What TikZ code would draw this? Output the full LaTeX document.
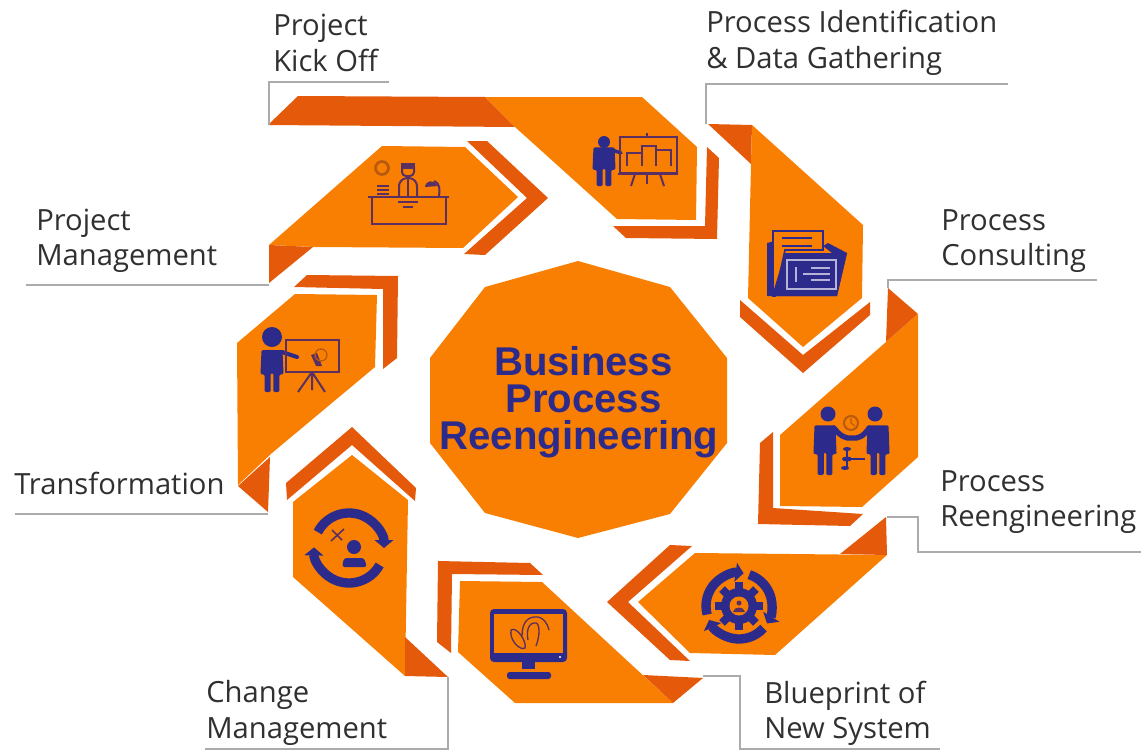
\documentclass[tikz,border=0pt]{standalone}
\usepackage{fontspec}
\setmainfont{Open Sans}
\newfontfamily\titlefont{Liberation Sans}
\usepackage{xcolor}
\usepackage{tikz}
\usetikzlibrary{arrows.meta}
\definecolor{mainorange}{HTML}{F97F03}
\definecolor{darkorange}{HTML}{E4590A}
\definecolor{iconblue}{HTML}{2C2A8A}
\definecolor{iconbrown}{HTML}{5A2F62}
\definecolor{clockbrown}{HTML}{B8590F}
\definecolor{leadgray}{HTML}{ABABAB}
\definecolor{labelgray}{HTML}{303030}
\tikzset{mainpart/.style={fill=mainorange},
    darkpart/.style={fill=darkorange},
    leadline/.style={draw=leadgray,line width=0.8pt},
    steplabel/.style={inner sep=0pt,anchor=west,align=left,text=labelgray,
        font=\fontsize{21.9}{26.5}\selectfont},
    iconline/.style={draw=iconbrown,line width=1.5pt},
    ringline/.style={draw=iconblue,line width=7pt,-{Triangle[length=6pt,width=14pt]}},
    man/.pic={
        \fill[iconblue,rounded corners=1pt] (-10,-31) -- (10,-31) -- (11,-13) -- (7,-13)
            -- (7,0) -- (1.2,0) -- (1.2,-14) -- (-1.2,-14) -- (-1.2,0) -- (-7,0) -- (-7,-13)
            -- (-11,-13) -- cycle;
    }}

\begin{document}
\begin{tikzpicture}[x=0.75pt,y=-0.75pt]
    \useasboundingbox (0,0) rectangle (1141,749);
    % top
    \fill[darkpart] (268,125) -- (298,96) -- (485,97) -- (515,127) -- cycle;
    \fill[mainpart] (485,97) -- (642,97) -- (697,147) -- (696,220) -- (617,219) -- (515,127) -- cycle;
    \fill[darkpart] (707,147) -- (719,158) -- (717,239) -- (626,238) -- (613,226) -- (705,226) -- cycle;
    % desk
    \fill[mainpart] (269,245) -- (382,146) -- (465,147) -- (518,197) -- (463,248) -- (315,247) -- cycle;
    \fill[darkpart] (269,245) -- (313,247) -- (269,283) -- cycle;
    \fill[darkpart] (467,141) -- (487,141) -- (548,198) -- (485,255) -- (464,254) -- (527,198) -- cycle;
    % folder
    \fill[darkpart] (708,124) -- (752,125) -- (751,164) -- cycle;
    \fill[mainpart] (752,125) -- (863,225) -- (862,298) -- (803,347) -- (748,298) -- (751,164) -- cycle;
    \fill[darkpart] (740,300) -- (803,355) -- (870,302) -- (870,315) -- (803,373) -- (740,317) -- cycle;
    % handshake
    \fill[darkpart] (888,288) -- (918,314) -- (886,342) -- cycle;
    \fill[mainpart] (886,342) -- (918,314) -- (918,457) -- (862,507) -- (780,506) -- (780,435) -- cycle;
    \fill[darkpart] (773,432) -- (773,508) -- (863,514) -- (850,526) -- (758,524) -- (760,443) -- cycle;
    % gear
    \fill[mainpart] (695,553) -- (887,555) -- (775,655) -- (690,653) -- (638,602) -- cycle;
    \fill[darkpart] (886,517) -- (887,555) -- (840,554) -- cycle;
    \fill[darkpart] (670,545) -- (692,546) -- (628,602) -- (690,661) -- (670,660) -- (607,602) -- cycle;
    % monitor
    \fill[mainpart] (460,581) -- (542,582) -- (673,703) -- (515,703) -- (458,652) -- cycle;
    \fill[darkpart] (643,675) -- (703,678) -- (673,703) -- cycle;
    \fill[darkpart] (438,561) -- (530,563) -- (543,575) -- (452,574) -- (451,653) -- (437,642) -- cycle;
    % change
    \fill[mainpart] (352,455) -- (408,500) -- (405,676) -- (293,577) -- (293,502) -- cycle;
    \fill[darkpart] (405,637) -- (448,677) -- (405,676) -- cycle;
    \fill[darkpart] (352,427) -- (416,488) -- (415,501) -- (352,445) -- (287,500) -- (286,483) -- cycle;
    % teacher
    \fill[mainpart] (295,294) -- (377,295) -- (375,367) -- (272,453) -- (238,485) -- (237,343) -- cycle;
    \fill[darkpart] (270,457) -- (268,512) -- (238,486) -- cycle;
    \fill[darkpart] (307,275) -- (398,276) -- (397,358) -- (383,369) -- (383,289) -- (294,287) -- cycle;
    % middle
    \fill[mainpart] (578,261) -- (670,287) -- (727,358) -- (727,443) -- (670,514) -- (578,538)
        -- (485,513) -- (430,443) -- (430,358) -- (485,287) -- cycle;
    \node[inner sep=0pt,text=iconblue,font=\titlefont\bfseries\fontsize{30.1}{27.8}\selectfont,align=center]
        (middle) at (579,402) {\hspace*{6.5pt}Business\\\hspace*{6.5pt}Process\\Reengineering};

    % labels
    \node[steplabel] (kickoff) at (273,43) {Project\\Kick Off};
    \node[steplabel] (identify) at (706,43) {Process Identification\\\& Data Gathering};
    \node[steplabel] (consult) at (941,241) {Process\\Consulting};
    \node[steplabel] (reeng) at (940,502) {Process\\Reengineering};
    \node[steplabel] (blueprint) at (764,713) {Blueprint of\\New System};
    \node[steplabel] (change) at (206,713) {Change\\Management};
    \node[steplabel] (transform) at (14,483) {Transformation};
    \node[steplabel] (manage) at (36,241) {Project\\Management};

    % lead lines
    \coordinate (kicktip) at (269,125);
    \coordinate (kickend) at (389,82);
    \draw[leadline] (kicktip) |- (kickend);
    \coordinate (identifytip) at (706,124);
    \coordinate (identifyend) at (1008,84);
    \draw[leadline] (identifytip) |- (identifyend);
    \coordinate (consulttip) at (888,288);
    \coordinate (consultend) at (1097,280);
    \draw[leadline] (consulttip) |- (consultend);
    \coordinate (reengtip) at (887,517);
    \coordinate (reengbend) at (918,552);
    \coordinate (reengend) at (1141,552);
    \draw[leadline] (reengtip) -| (reengbend) -- (reengend);
    \coordinate (blueprinttip) at (703,676);
    \coordinate (blueprintbend) at (740,749);
    \coordinate (blueprintend) at (940,749);
    \draw[leadline] (blueprinttip) -| (blueprintbend) -- (blueprintend);
    \coordinate (changetip) at (448,677);
    \coordinate (changebend) at (448,749);
    \coordinate (changeend) at (205,749);
    \draw[leadline] (changetip) -- (changebend) -- (changeend);
    \coordinate (transformtip) at (268,514);
    \coordinate (transformend) at (15,514);
    \draw[leadline] (transformtip) -- (transformend);
    \coordinate (managetip) at (269,285);
    \coordinate (manageend) at (26,285);
    \draw[leadline] (managetip) -- (manageend);

    % presenter and chart
    \pic[xscale=1.05,yscale=1.25] at (604,186) {man};
    \fill[iconblue] (604,142) circle (6);
    \draw[iconblue,line width=2.5pt,line cap=round] (612,150) -- (621,153);
    \draw[iconline] (620,137) rectangle (677,173);
    \draw[iconline] (618,174) -- (678,174);
    \draw[iconline] (647,137) -- (647,133);
    \draw[iconline] (627,166) -- (627,153) -- (642,153) -- (642,166);
    \draw[iconline] (642,153) -- (642,146) -- (656,146) -- (656,166);
    \draw[iconline] (656,150) -- (671,150) -- (671,166);
    \draw[iconline] (635,174) -- (631,186);
    \draw[iconline] (647,174) -- (647,184);
    \draw[iconline] (660,174) -- (664,186);

    % desk icon
    \draw[iconline] (368,197) -- (449,197);
    \draw[iconline] (372,197) rectangle (446,224);
    \draw[iconline] (398,202) -- (418,202) (403,207) -- (413,207);
    \draw[iconline,draw=clockbrown,line width=2pt] (382,168) circle (6.5);
    \draw[iconline] (377,186) -- (389,186) (377,190) -- (389,190) (377,194) -- (389,194);
    \draw[iconline] (399,197) -- (399,187) .. controls (399,180) and (404,178) .. (408,178)
        .. controls (412,178) and (417,180) .. (417,187) -- (417,197);
    \draw[iconline] (408,178) -- (408,197);
    \draw[iconline,rounded corners=3pt] (402,167) -- (402,176) -- (414,176) -- (414,167);
    \fill[iconbrown] (401,163) rectangle (415,169);
    \fill[iconbrown] (425,187) .. controls (426,180) and (433,179) .. (438,186) -- cycle;
    \draw[iconline] (434,181) .. controls (440,183) and (440,190) .. (439,196);

    % folder icon
    \fill[iconblue] (767,243) -- (775,241) -- (775,253) -- (785,253) -- (847,253) -- (837,296) -- (767,296) -- cycle;
    \draw[draw=iconblue,fill=mainorange,line width=1.2pt] (773,231) -- (823,231) -- (823,250)
        -- (785,250) -- (775,296) -- (773,296) -- cycle;
    \fill[iconblue] (785,253) -- (832,253) -- (823,246) -- (828,243) -- (847,253) -- (837,296) -- (772,296) -- cycle;
    \draw[iconblue,line width=1.6pt] (782,238) -- (812,238) (782,246) -- (812,246);
    \draw[draw=iconblue!35!white,line width=1.2pt] (787,260) rectangle (836,289);
    \draw[draw=iconblue!35!white,line width=1pt] (811,268) -- (830,268) (803,274) -- (830,274)
        (811,280) -- (830,280) (796,267) -- (796,282);

    % handshake icon
    \pic[xscale=1.05,yscale=1.6] at (825,475) {man};
    \pic[xscale=1.05,yscale=1.6] at (878,475) {man};
    \fill[iconblue] (828,414) circle (7.5) (875,414) circle (7.5);
    \draw[iconblue,line width=4pt,line cap=round] (834,428) .. controls (840,436) and (846,439) .. (852,438)
        .. controls (858,439) and (864,436) .. (869,428);
    \draw[iconline,draw=clockbrown] (851,423) circle (7);
    \draw[iconline,line width=0.8pt,draw=clockbrown] (851,418) -- (851,423) -- (855,426);
    \fill[iconblue] (847,449) ellipse (4 and 2) (847,459) ellipse (5 and 2.5) (845,468) ellipse (4 and 2);
    \draw[iconblue,line width=1pt] (847,449) -- (847,468) (850,459) -- (865,459);

    % gear icon
    \draw[ringline] (739,606) ++(165:33) arc (165:278:33);
    \draw[ringline] (739,606) ++(288:33) arc (288:392:33);
    \draw[ringline] (739,606) ++(42:33) arc (42:155:33);
    \foreach \ang in {0,45,...,315} {
        \draw[iconblue,line width=6pt] (739,606) -- ++(\ang:24);
    }
    \fill[iconblue] (739,606) circle (18);
    \fill[mainorange] (739,606) circle (9.5);
    \fill[iconbrown] (739,603) circle (2.5);
    \fill[iconbrown] (733,612) .. controls (734,606) and (744,606) .. (745,612) -- cycle;

    % monitor icon
    \fill[iconblue,rounded corners=3pt] (490,609) rectangle (567,662);
    \fill[mainorange] (494,614) rectangle (563,653);
    \fill[iconblue] (522,662) rectangle (535,669);
    \fill[iconblue,rounded corners=2pt] (507,672) rectangle (551,679);
    \fill[white] (560,657) circle (1.2);
    \draw[iconline,line width=1pt] (511,630) .. controls (517,626) and (527,642) .. (525,648)
        .. controls (520,651) and (509,640) .. (511,630) -- cycle;
    \draw[iconline,line width=1pt] (522,636) .. controls (522,622) and (528,616) .. (538,617)
        .. controls (543,618) and (547,622) .. (549,630);
    \draw[iconline,line width=1pt] (528,640) .. controls (526,630) and (529,622) .. (536,623)
        .. controls (540,624) and (540,636) .. (536,646);

    % change icon
    \draw[ringline] (349,548) ++(207:35) arc (207:360:35);
    \draw[ringline] (349,548) ++(29:35) arc (29:181:35);
    \fill[iconblue] (354,547) circle (7);
    \fill[iconblue,rounded corners=2pt] (342,567) -- (344,558) -- (364,558) -- (367,567) -- cycle;
    \draw[iconline,line width=1.2pt] (332,530) -- (342,540) (344,529) -- (331,541);

    % teacher icon
    \pic[xscale=1.05,yscale=1.35] at (272,392) {man};
    \fill[iconblue] (272,337) circle (10);
    \draw[iconblue,line width=3pt,line cap=round] (282,352) -- (297,357);
    \draw[iconline] (286,340) rectangle (339,372);
    \draw[iconline] (312,372) -- (298,392) (312,372) -- (312,390) (312,372) -- (325,392);
    \fill[iconbrown] (311,355) -- (317,353) -- (322,366) -- (316,366) -- cycle;
    \draw[iconline,line width=1pt,draw=clockbrown] (321,355) circle (6);
\end{tikzpicture}
\end{document}
